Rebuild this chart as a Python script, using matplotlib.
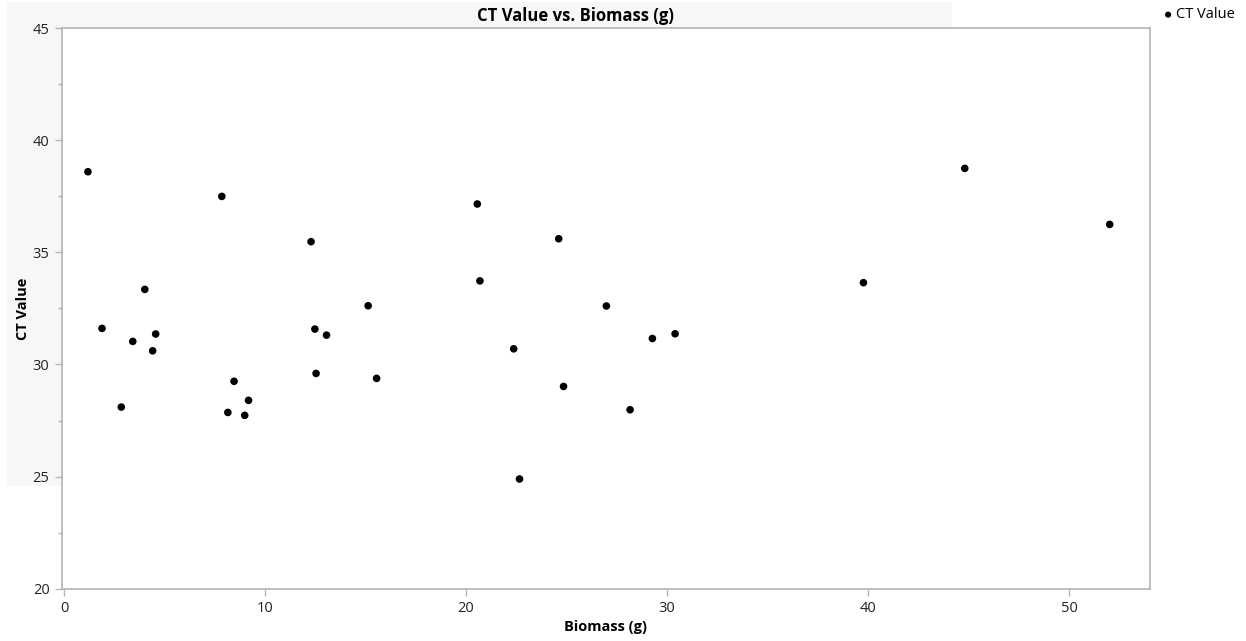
import matplotlib
matplotlib.use("Agg")
import matplotlib.pyplot as plt
from matplotlib.patches import Rectangle
from matplotlib.ticker import MultipleLocator

plt.rcParams['font.family'] = ['Open Sans', 'DejaVu Sans']

biomass = [1.19, 1.89, 2.85, 3.42, 4.02, 4.41, 4.56, 7.85, 8.15, 8.46, 8.99, 9.18,
           12.29, 12.48, 12.54, 13.06, 15.13, 15.55, 20.56, 20.69, 22.37, 22.66,
           24.61, 24.85, 26.98, 28.16, 29.27, 30.40, 39.77, 44.81, 52.02]
ct_value = [38.60, 31.61, 28.10, 31.03, 33.35, 30.61, 31.36, 37.50, 27.86, 29.25, 27.73, 28.40,
            35.48, 31.58, 29.60, 31.31, 32.62, 29.38, 37.16, 33.73, 30.70, 24.89,
            35.61, 29.02, 32.61, 27.98, 31.16, 31.37, 33.65, 38.75, 36.25]

x_ticks = [0, 10, 20, 30, 40, 50]
y_ticks = [20, 25, 30, 35, 40, 45]

W, H = 1246, 641
fig = plt.figure(figsize=(W / 100, H / 100), dpi=100)
fig.patch.set_facecolor('white')

# light gray panel behind the upper-left area
fig.patches.append(Rectangle((7 / W, 1 - 486 / H), (952 - 7) / W, (486 - 2) / H,
                             transform=fig.transFigure, facecolor='#f7f7f7',
                             edgecolor='none', zorder=0))

left, right, top, bottom = 62, 1149.5, 28.3, 588.6
ax = fig.add_axes([left / W, 1 - bottom / H, (right - left) / W, (bottom - top) / H])
ax.set_facecolor('white')
ax.set_zorder(1)

ax.scatter(biomass, ct_value, s=30, color='black', edgecolors='none', zorder=3, label='CT Value')

ax.set_xlim(-0.1, 54.0)
ax.set_ylim(20, 45)
ax.set_xticks(x_ticks)
ax.set_yticks(y_ticks)
ax.yaxis.set_minor_locator(MultipleLocator(2.5))

for s in ax.spines.values():
    s.set_color('#b4b4b4')
    s.set_linewidth(1.2)

ax.tick_params(axis='both', which='major', length=5, width=1, color='#b4b4b4',
               labelsize=10.5, labelcolor='#222222', pad=4)
ax.tick_params(axis='y', which='minor', length=3, width=1, color='#b4b4b4')

ax.set_xlabel('Biomass (g)', fontsize=10.5, fontweight='bold', labelpad=3)
ax.set_ylabel('CT Value', fontsize=10.5, fontweight='bold', labelpad=2)

fig.text(575 / W, 1 - 16 / H, 'CT Value vs. Biomass (g)', ha='center', va='center',
         fontsize=12, fontweight='bold')

# legend
fig.legend(handles=[ax.collections[0]], labels=['CT Value'], loc='center left',
           bbox_to_anchor=(1155 / W, 1 - 15 / H), frameon=False, fontsize=10.5,
           handletextpad=0.05, markerscale=0.8, borderaxespad=0, handlelength=1)

fig.savefig('out.png', dpi=100)
